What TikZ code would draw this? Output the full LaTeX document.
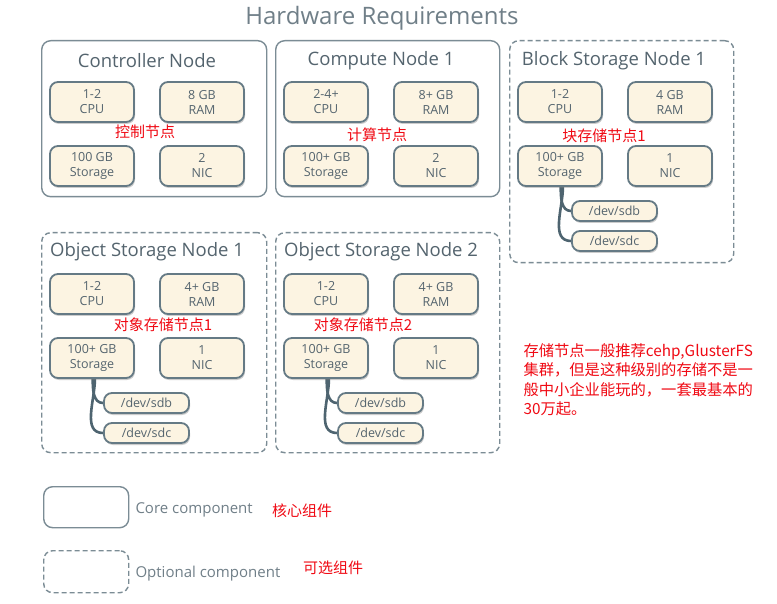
\documentclass[tikz,border=0pt]{standalone}
\usepackage{fontspec}
\setmainfont{Open Sans}
\newfontfamily\cjk{Noto Sans CJK SC}
\usetikzlibrary{positioning,shadows,backgrounds}
\definecolor{framegray}{RGB}{123,140,149}
\definecolor{cellfill}{RGB}{252,244,226}
\definecolor{celledge}{RGB}{101,122,133}
\definecolor{textgray}{RGB}{84,100,110}
\definecolor{titlegray}{RGB}{112,127,136}
\definecolor{wiregray}{RGB}{78,100,112}
\definecolor{notered}{RGB}{240,10,20}

\begin{document}
\begin{tikzpicture}[x=1pt,y=-1pt,
  nodebox/.style={draw=framegray,line width=1.4pt,rounded corners=9pt,anchor=north west,inner sep=0pt},
  optbox/.style={nodebox,dash pattern=on 5pt off 3pt},
  boxtitle/.style={text=textgray,font=\fontsize{18.5}{20}\selectfont},
  cell/.style={draw=celledge,line width=1.8pt,fill=cellfill,rounded corners=8pt,
    minimum width=84pt,minimum height=40pt,inner sep=0pt,align=center,text=textgray,
    font=\fontsize{12.5}{15}\selectfont,
    drop shadow={shadow xshift=1pt,shadow yshift=-2pt,opacity=.4}},
  devcell/.style={cell,minimum width=85pt,minimum height=20pt},
  wire/.style={draw=wiregray,line width=2.6pt},
  legendtext/.style={text=titlegray,font=\fontsize{15}{18}\selectfont,anchor=west},
  zhnote/.style={text=notered,font=\cjk\fontsize{15}{19.5}\selectfont}]
  \begin{pgfonlayer}{background}
    \fill[white] (0,0) rectangle (777,604);
  \end{pgfonlayer}
  \useasboundingbox (0,0) rectangle (777,604);

  \node[text=titlegray,font=\fontsize{24}{28}\selectfont] (title) at (382,18) {Hardware Requirements};

  % machine boxes
  \node[nodebox,minimum width=225pt,minimum height=156pt] (ctrl) at (41,40) {};
  \node[boxtitle] (ctrl-title) at (147,61) {Controller Node};
  \node[nodebox,minimum width=224pt,minimum height=156pt] (comp) at (275,40) {};
  \node[boxtitle] (comp-title) at (381,61) {Compute Node 1};
  \node[optbox,minimum width=224pt,minimum height=222pt] (blk) at (509,40) {};
  \node[boxtitle] (blk-title) at (614,61) {Block Storage Node 1};
  \node[optbox,minimum width=225pt,minimum height=220pt] (obj1) at (41,232) {};
  \node[boxtitle] (obj1-title) at (147,252) {Object Storage Node 1};
  \node[optbox,minimum width=224pt,minimum height=220pt] (obj2) at (275,232) {};
  \node[boxtitle] (obj2-title) at (381,252) {Object Storage Node 2};

  \foreach \id/\lx/\ty/\cpu/\ram/\sto/\nic in {ctrl/41/40/1-2/8 GB/100 GB/2,
      comp/275/40/2-4+/8+ GB/100+ GB/2, blk/509/40/1-2/4 GB/100+ GB/1,
      obj1/41/232/1-2/4+ GB/100+ GB/1, obj2/275/232/1-2/4+ GB/100+ GB/1}{
    \node[cell] (\id-cpu) at (\lx+51,\ty+62) {\cpu\\CPU};
    \node[cell] (\id-ram) at (\lx+161,\ty+62) {\ram\\RAM};
    \node[cell] (\id-sto) at (\lx+51,\ty+126) {\sto\\Storage};
    \node[cell] (\id-nic) at (\lx+161,\ty+126) {\nic\\NIC};
  }

  % disks
  \foreach \id/\lx/\ty in {blk/509/40, obj1/41/232, obj2/275/232}{
    \node[devcell] (\id-sdb) at (\lx+105.5,\ty+171) {/dev/sdb};
    \node[devcell] (\id-sdc) at (\lx+105.5,\ty+201) {/dev/sdc};
    \begin{pgfonlayer}{background}
      \draw[wire] (\id-sto.-88) to[out=-90,in=180] (\id-sdb.west);
      \draw[wire] (\id-sto.-82) to[out=-90,in=180] (\id-sdc.west);
    \end{pgfonlayer}
  }

  % notes
  \node[zhnote] (ctrl-zh) at (145,132) {控制节点};
  \node[zhnote] (comp-zh) at (377,135) {计算节点};
  \node[zhnote] (blk-zh) at (604,136) {块存储节点1};
  \node[zhnote] (obj1-zh) at (163,325) {对象存储节点1};
  \node[zhnote] (obj2-zh) at (363,325) {对象存储节点2};
  \node[zhnote,anchor=north west,align=left,font=\cjk\fontsize{15.3}{19.5}\selectfont] (advice) at (520,340)
    {存储节点一般推荐cehp,GlusterFS\\集群，但是这种级别的存储不是一\\般中小企业能玩的，一套最基本的\\30万起。};

  % legend
  \node[nodebox,minimum width=85pt,minimum height=41pt] (core) at (43,486) {};
  \node[legendtext] (core-text) at (132,510) {Core component};
  \node[zhnote] (core-zh) at (302,511) {核心组件};
  \node[optbox,minimum width=85pt,minimum height=42pt] (opt) at (43,550) {};
  \node[legendtext] (opt-text) at (132,574) {Optional component};
  \node[zhnote] (opt-zh) at (333,568) {可选组件};
\end{tikzpicture}
\end{document}
